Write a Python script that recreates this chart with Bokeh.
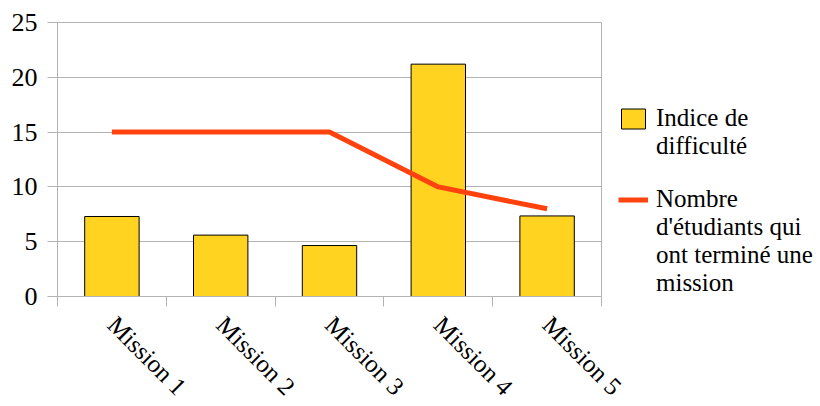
from math import pi
from bokeh.plotting import figure
from bokeh.models import (Range1d, LinearAxis, FixedTicker, Legend, LegendItem)
from bokeh.embed import file_html
from bokeh.resources import INLINE

missions = ["Mission 1", "Mission 2", "Mission 3", "Mission 4", "Mission 5"]
difficulty = [7.3, 5.6, 4.65, 21.2, 7.35]
students = [15, 15, 15, 10, 8]
y_ticks = [0, 5, 10, 15, 20, 25]
legend_bar_lines = ["Indice de", "difficulté"]
legend_line_lines = ["Nombre", "d'étudiants qui", "ont terminé une", "mission"]

# category positions: each category occupies one unit, centred on i + 0.5
centers = [i + 0.5 for i in range(len(missions))]
boundaries = list(range(len(missions) + 1))

GRID = "#b3b3b3"
FONT = "Liberation Serif"

p = figure(x_range=Range1d(0, len(missions)), y_range=Range1d(0, 25),
           frame_width=544, frame_height=274,
           output_backend="svg", toolbar_location=None,
           x_axis_location=None,
           min_border_left=57, min_border_top=22, min_border_right=215,
           min_border_bottom=10)

tick_axis = LinearAxis(ticker=FixedTicker(ticks=boundaries),
                       major_label_overrides={b: "" for b in boundaries},
                       major_label_text_font_size="0px", major_label_standoff=0,
                       major_tick_out=10, major_tick_in=0,
                       axis_line_color=GRID, major_tick_line_color=GRID,
                       minor_tick_line_color=None)
p.add_layout(tick_axis, "below")

label_axis = LinearAxis(ticker=FixedTicker(ticks=centers),
                        major_label_overrides={c: m for c, m in zip(centers, missions)},
                        axis_line_color=None, major_tick_line_color=None,
                        minor_tick_line_color=None,
                        major_label_orientation=-pi / 4,
                        major_label_text_font=FONT,
                        major_label_text_font_size="25px",
                        major_label_text_color="#000000",
                        major_label_standoff=8)
p.add_layout(label_axis, "below")

p.yaxis.ticker = FixedTicker(ticks=y_ticks)
p.yaxis.axis_line_color = GRID
p.yaxis.major_tick_line_color = GRID
p.yaxis.major_tick_out = 10
p.yaxis.major_tick_in = 0
p.yaxis.minor_tick_line_color = None
p.yaxis.major_label_text_font = FONT
p.yaxis.major_label_text_font_size = "26px"
p.yaxis.major_label_text_color = "#000000"
p.yaxis.major_label_standoff = 10

p.xgrid.visible = False
p.ygrid.grid_line_color = GRID
p.ygrid.ticker = FixedTicker(ticks=y_ticks)
p.outline_line_color = GRID

bars = p.vbar(x=centers, top=difficulty, width=0.5, fill_color="#ffd320",
              line_color="#000000", line_width=1)
line = p.line(x=centers, y=students, line_width=5, line_color="#ff420e")

items = ([LegendItem(label=legend_bar_lines[0], renderers=[bars])] +
         [LegendItem(label=t, renderers=[]) for t in legend_bar_lines[1:]] +
         [LegendItem(label=" ", renderers=[])] +
         [LegendItem(label=legend_line_lines[0], renderers=[line])] +
         [LegendItem(label=t, renderers=[]) for t in legend_line_lines[1:]])

legend = Legend(items=items, label_text_font=FONT, label_text_font_size="25px",
                label_text_color="#000000", label_text_line_height=1.0,
                glyph_width=30, glyph_height=25, label_height=20,
                border_line_color=None, background_fill_alpha=0,
                padding=0, margin=0, spacing=0, label_standoff=8,
                location=(17, -1))
p.add_layout(legend, "right")

open("out.html", "w").write(file_html(p, INLINE))
